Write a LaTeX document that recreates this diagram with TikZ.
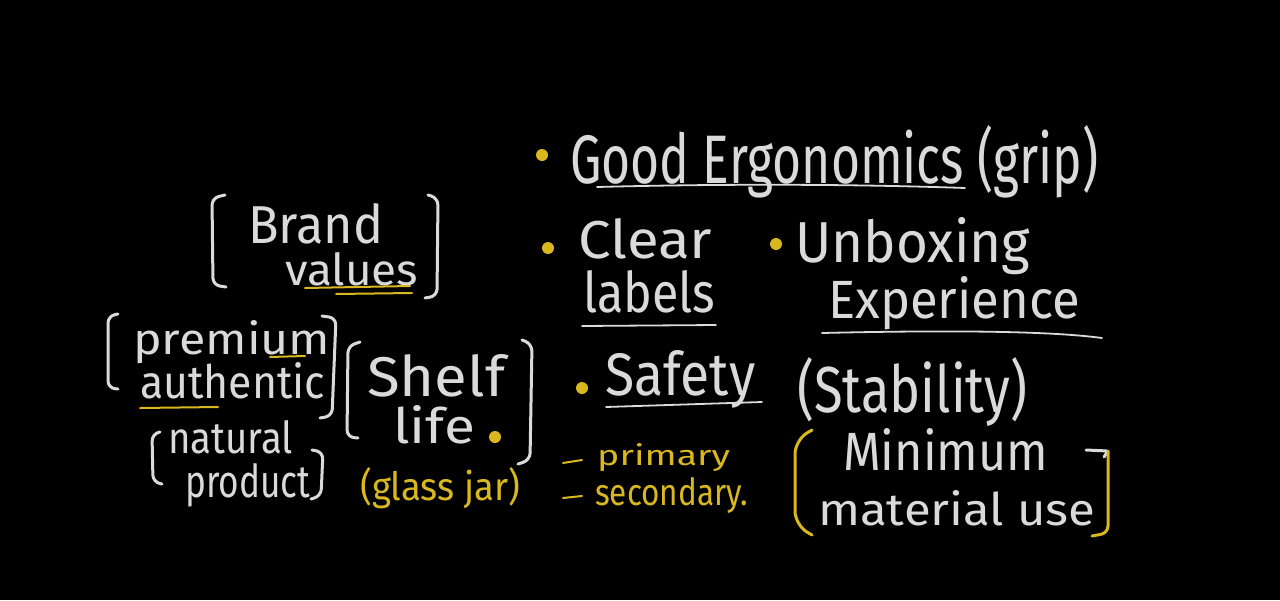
\documentclass[tikz,border=0pt]{standalone}
\usepackage{fontspec}
\setmainfont{Fira Sans}
\usepackage{graphicx}
\definecolor{chalk}{HTML}{DADADA}
\definecolor{ylw}{HTML}{D9B71E}
\newcommand{\fitw}[3]{\resizebox{#1pt}{#2pt}{#3}}
\begin{document}
\begin{tikzpicture}[x=1pt,y=-1pt,
  txt/.style={anchor=base west, inner sep=0pt, text=chalk},
  ytxt/.style={anchor=base west, inner sep=0pt, text=ylw},
  brk/.style={draw=chalk, line width=3pt, line cap=round, line join=round, rounded corners=7pt},
  ybrk/.style={draw=ylw, line width=3pt, line cap=round, line join=round, rounded corners=7pt},
  ul/.style={draw=chalk, line width=1.8pt, line cap=round},
  yul/.style={draw=ylw, line width=2pt, line cap=round},
  ydot/.style={fill=ylw, circle, inner sep=0pt, minimum size=12pt}]
\fill[black] (0,0) rectangle (1280,600);
\useasboundingbox (0,0) rectangle (1280,600);

% left cluster
\node[txt] (brand) at (248,243) {\fitw{135}{40}{Brand}};
\node[txt] (values) at (285,285) {\fitw{133}{33}{values}};
\node[txt] (premium) at (133,354) {\fitw{197}{34}{premium}};
\node[txt] (authentic) at (140,398) {\fitw{185}{36}{authentic}};
\node[txt] (natural) at (168,453) {\fitw{125}{33}{natural}};
\node[txt] (product) at (185,497) {\fitw{125}{34}{product}};
\node[txt] (shelf) at (367,396) {\fitw{138}{42}{Shelf}};
\node[txt] (life) at (393,443) {\fitw{82}{38}{life}};
\node[ydot] (lifedot) at (495,437) {};
\node[ytxt] (glass) at (360,500) {\fitw{160}{33}{(glass jar)}};

% brackets left cluster
\draw[brk] (225,195) -- (212,198) -- (213,285) -- (226,287);
\draw[brk] (428,195) -- (438,198) -- (437,296) -- (425,298);
\draw[brk] (118,314) -- (108,316) -- (108,388) -- (118,389);
\draw[brk] (322,316) -- (336,318) -- (332,416) -- (320,418);
\draw[brk] (360,342) -- (348,346) -- (347,437) -- (358,438);
\draw[brk] (522,340) -- (532,344) -- (530,460) -- (518,464);
\draw[brk] (160,432) -- (152,434) -- (153,482) -- (162,484);
\draw[brk] (312,450) -- (323,452) -- (321,496) -- (311,499);

% yellow underlines left
\draw[yul] (305,288) -- (410,286);
\draw[yul] (336,294) -- (412,293);
\draw[yul] (270,357) -- (305,356);
\draw[yul] (140,408) -- (218,407);

% right cluster
\node[ydot] (d1) at (542,155) {};
\node[txt] (good) at (570,183) {\fitw{528}{58}{Good Ergonomics (grip)}};
\draw[ul] (597,187) .. controls (750,183) and (880,185) .. (965,188);

\node[ydot] (d2) at (548,248) {};
\node[txt] (clear) at (578,258) {\fitw{134}{40}{Clear}};
\node[txt] (labels) at (583,312) {\fitw{132}{42}{labels}};
\draw[ul] (582,326) -- (716,325);

\node[ydot] (d3) at (776,244) {};
\node[txt] (unbox) at (795,262) {\fitw{235}{45}{Unboxing}};
\node[txt] (exper) at (828,318) {\fitw{252}{42}{Experience}};
\draw[ul] (822,333) .. controls (950,330) and (1050,331) .. (1102,338);

\node[ydot] (d4) at (582,388) {};
\node[txt] (safety) at (605,395) {\fitw{150}{45}{Safety}};
\draw[ul] (606,407) -- (762,402);
\node[txt] (stab) at (797,412) {\fitw{230}{55}{(Stability)}};

\draw[yul] (563,463) -- (582,460);
\node[ytxt] (primary) at (597,465) {\fitw{133}{22}{primary}};
\draw[yul] (563,498) -- (582,496);
\node[ytxt] (secondary) at (595,505) {\fitw{153}{28}{secondary.}};

\node[txt] (minimum) at (843,470) {\fitw{205}{42}{Minimum}};
\node[txt] (material) at (818,525) {\fitw{277}{35}{material use}};
\draw[ybrk,rounded corners=14pt] (812,430) -- (795,440) -- (795,525) -- (812,535);
\draw[brk,rounded corners=2pt] (1086,450) -- (1108,451) -- (1104,457);
\draw[ybrk] (1108,451) -- (1108,533) -- (1092,536);
\end{tikzpicture}
\end{document}
